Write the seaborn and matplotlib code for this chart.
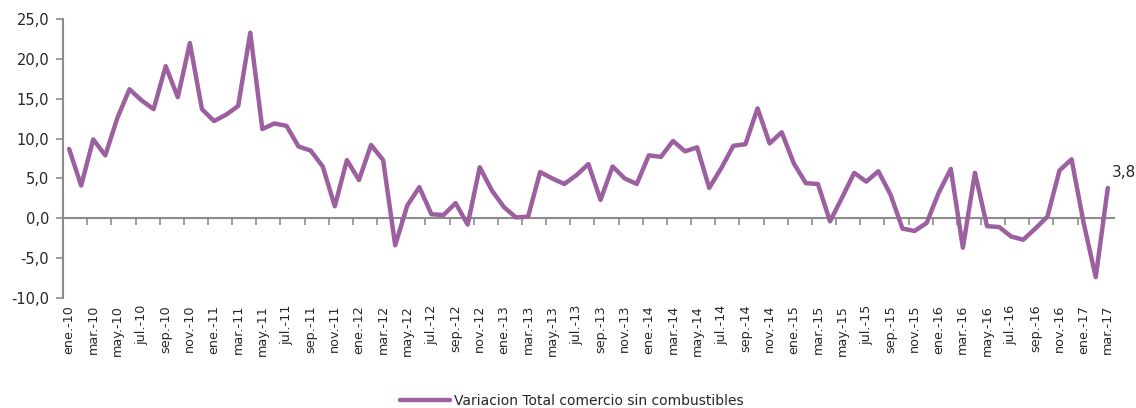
import numpy as np
import pandas as pd
import matplotlib
matplotlib.use("Agg")
from matplotlib import pyplot as plt
import seaborn as sns

# monthly values, ene.-10 .. mar.-17
meses = ['ene', 'feb', 'mar', 'abr', 'may', 'jun', 'jul', 'ago', 'sep', 'oct', 'nov', 'dic']
anios = [10, 11, 12, 13, 14, 15, 16, 17]
variacion = [
    8.7, 4.1, 9.9, 7.9, 12.6, 16.2, 14.8, 13.7, 19.1, 15.2, 22.0, 13.7,   # 2010
    12.2, 13.0, 14.1, 23.3, 11.2, 11.9, 11.6, 9.0, 8.5, 6.5, 1.5, 7.3,    # 2011
    4.8, 9.2, 7.3, -3.4, 1.6, 3.9, 0.5, 0.4, 1.9, -0.8, 6.4, 3.5,         # 2012
    1.4, 0.1, 0.2, 5.8, 5.0, 4.3, 5.4, 6.8, 2.3, 6.5, 5.0, 4.3,           # 2013
    7.9, 7.7, 9.7, 8.4, 8.9, 3.8, 6.3, 9.1, 9.3, 13.8, 9.4, 10.8,         # 2014
    6.9, 4.4, 4.3, -0.4, 2.6, 5.7, 4.6, 5.9, 3.0, -1.3, -1.6, -0.6,       # 2015
    3.2, 6.2, -3.7, 5.7, -1.0, -1.1, -2.3, -2.7, -1.3, 0.2, 6.0, 7.4,     # 2016
    -0.6, -7.4, 3.8,                                                      # 2017
]
periodos = [f"{m}.-{a}" for a in anios for m in meses][:len(variacion)]
serie = "Variacion Total comercio sin combustibles"

df = pd.DataFrame({"idx": np.arange(len(variacion)), "periodo": periodos, "valor": variacion})

sns.set_style("white")
plt.rcParams['font.family'] = ['DejaVu Sans']

color = '#9C5FA0'
gris = '#8C8C8C'
texto = '#262626'

fig = plt.figure(figsize=(11.36, 4.08), dpi=100)
ax = fig.add_axes([0.0555, 0.27, 0.925, 0.683])

sns.lineplot(data=df, x="idx", y="valor", color=color, linewidth=3.2, ax=ax,
             label=serie, solid_joinstyle='round', solid_capstyle='round')

ax.set_xlim(-0.5, len(variacion) - 0.5)
ax.set_ylim(-10, 25)
ax.set_yticks(np.arange(-10, 26, 5))
ax.set_yticklabels([f"{v:.1f}".replace('.', ',') for v in np.arange(-10, 26, 5)],
                   fontsize=10.5, color=texto)
ax.set_xticks(df["idx"][::2])
ax.set_xticklabels(df["periodo"][::2], rotation=90, fontsize=9.2, color=texto)
ax.tick_params(axis='x', length=0, pad=5)
ax.tick_params(axis='y', length=5, width=1.2, color=gris, left=True, pad=5)
ax.set_xlabel('')
ax.set_ylabel('')

for s in ['top', 'right', 'bottom']:
    ax.spines[s].set_visible(False)
ax.spines['left'].set_color(gris)
ax.spines['left'].set_linewidth(1.5)

# zero line with tick marks between categories
sec = ax.secondary_xaxis(10 / 35)
sec.set_xticks(np.arange(-0.5, len(variacion), 2))
sec.set_xticklabels([])
sec.tick_params(length=5, width=1.2, color=gris, direction='out')
sec.spines['bottom'].set_color(gris)
sec.spines['bottom'].set_linewidth(1.5)
for s in ['top', 'left', 'right']:
    sec.spines[s].set_visible(False)
ax.set_zorder(1)
ax.patch.set_alpha(0)

ultimo = df.iloc[-1]
ax.annotate(f"{ultimo['valor']:.1f}".replace('.', ','), (ultimo['idx'], ultimo['valor']),
            xytext=(3, 6), textcoords='offset points', fontsize=11, color=texto,
            ha='left', va='bottom')

leg = ax.legend(loc='lower center', bbox_to_anchor=(0.503, -0.03), bbox_transform=fig.transFigure,
                frameon=False, fontsize=10, handlelength=3.6, handletextpad=0.3)
for t in leg.get_texts():
    t.set_color(texto)

fig.savefig("out.png", dpi=100)
